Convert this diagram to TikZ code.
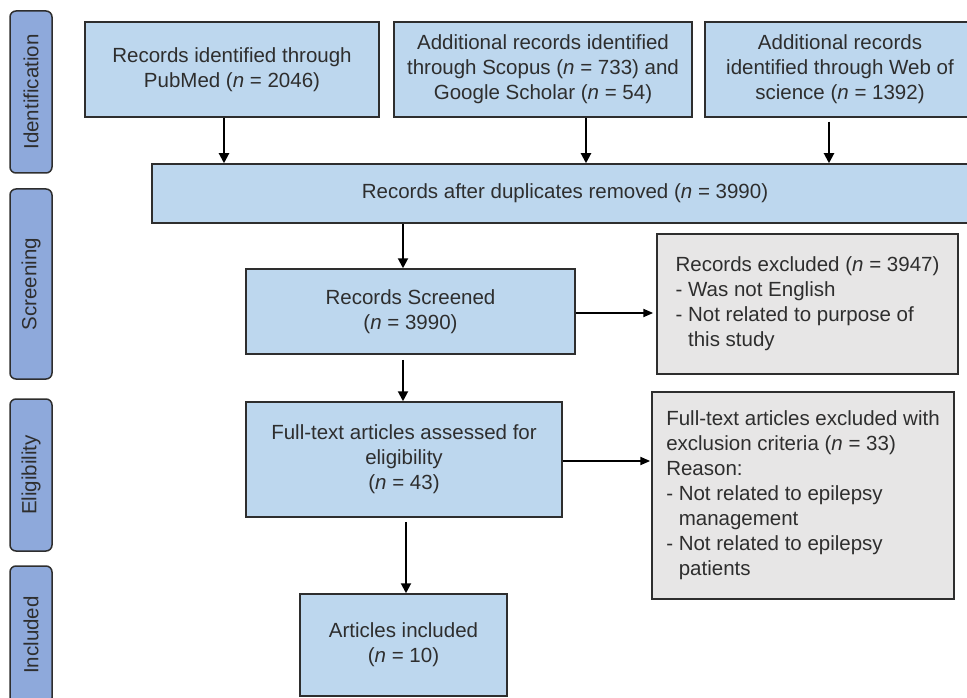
\documentclass[tikz,border=0pt]{standalone}
\usepackage{fontspec}
\setmainfont{Liberation Sans}
\usetikzlibrary{arrows.meta}
\definecolor{stagefill}{HTML}{8EA9DB}
\definecolor{boxfill}{HTML}{BDD7EE}
\definecolor{exclfill}{HTML}{E7E6E6}
\definecolor{inkgray}{HTML}{2E2E2E}
\begin{document}
\begin{tikzpicture}[x=1pt, y=-1pt,
  every node/.style={font=\fontsize{20.5}{25}\selectfont, text=inkgray},
  stage/.style={draw=inkgray, line width=1.5pt, fill=stagefill, rounded corners=6pt, rotate=90, minimum height=42pt, inner sep=0pt},
  flowbox/.style={draw=inkgray, line width=1.5pt, fill=boxfill, align=center, inner sep=0pt},
  exclbox/.style={draw=inkgray, line width=1.5pt, fill=exclfill, align=left, inner sep=0pt},
  arr/.style={-{Triangle[length=10pt, width=10pt]}, line width=2pt, black},
  sidearr/.style={-{Triangle[length=10pt, width=8pt]}, line width=2pt, black}]
  \clip (0,0) rectangle (967,698);

  % Stage labels on the left
  \node[stage, minimum width=162pt] (ident) at (31, 92) {Identification};
  \node[stage, minimum width=190pt] (screening) at (31, 284) {Screening};
  \node[stage, minimum width=152pt] (elig) at (31, 475) {Eligibility};
  \node[stage, minimum width=138pt] (included) at (31, 635) {Included};

  % Identification
  \node[flowbox, minimum width=294pt, minimum height=95pt] (pubmed) at (232, 69.5)
    {Records identified through\\PubMed (\textit{n} = 2046)};
  \node[flowbox, minimum width=298pt, minimum height=95pt] (scopus) at (543, 69.5)
    {Additional records identified\\through Scopus (\textit{n} = 733) and\\Google Scholar (\textit{n} = 54)};
  \node[flowbox, minimum width=270pt, minimum height=95pt] (wos) at (840, 69.5)
    {Additional records\\identified through Web of\\science (\textit{n} = 1392)};
  \node[flowbox, minimum width=826pt, minimum height=59pt] (dup) at (565, 193.5)
    {Records after duplicates removed (\textit{n} = 3990)};

  % Screening and eligibility
  \node[flowbox, minimum width=329pt, minimum height=85pt] (screen) at (410.5, 311.5)
    {Records Screened\\(\textit{n} = 3990)};
  \node[exclbox, minimum width=301pt, minimum height=140pt] (excl1) at (807.5, 304)
    {Records excluded (\textit{n} = 3947)\\- Was not English\\- Not related to purpose of\\\phantom{- }this study};
  \node[flowbox, minimum width=316pt, minimum height=115pt] (fulltext) at (404, 459.5)
    {Full-text articles assessed for\\eligibility\\(\textit{n} = 43)};
  \node[exclbox, minimum width=302pt, minimum height=207pt] (excl2) at (803, 495.5)
    {Full-text articles excluded with\\exclusion criteria (\textit{n} = 33)\\Reason:\\- Not related to epilepsy\\\phantom{- }management\\- Not related to epilepsy\\\phantom{- }patients};

  % Included
  \node[flowbox, minimum width=207pt, minimum height=102pt] (incl) at (403.5, 645)
    {Articles included\\(\textit{n} = 10)};

  % Arrows
  \draw[arr] ([xshift=-8pt]pubmed.south) -- ([xshift=-8pt]pubmed.south |- dup.north);
  \draw[arr] ([xshift=43pt]scopus.south) -- ([xshift=43pt]scopus.south |- dup.north);
  \draw[arr] ([xshift=-11pt, yshift=-4pt]wos.south) -- ([xshift=-11pt]wos.south |- dup.north);
  \draw[arr] (dup.south -| screen.north) ++(-7.5,0) coordinate (d1) -- (d1 |- screen.north);
  \draw[sidearr] ([yshift=-1.5pt]screen.east) -- ([yshift=-1.5pt, xshift=-3pt]screen.east -| excl1.west);
  \draw[arr] ([xshift=-7.5pt, yshift=-5pt]screen.south) -- ([xshift=-7.5pt]screen.south |- fulltext.north);
  \draw[sidearr] ([yshift=-1.5pt]fulltext.east) -- ([yshift=-1.5pt, xshift=-1pt]fulltext.east -| excl2.west);
  \draw[arr] ([xshift=2pt, yshift=-4pt]fulltext.south) -- ([xshift=2pt]fulltext.south |- incl.north);
\end{tikzpicture}
\end{document}
